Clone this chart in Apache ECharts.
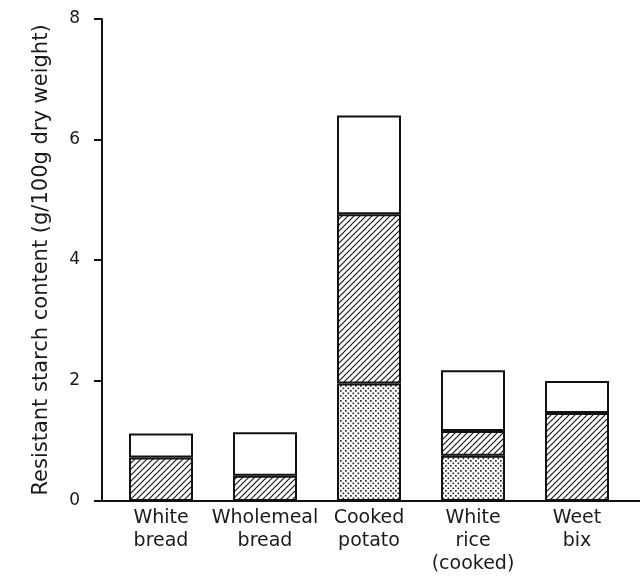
<!DOCTYPE html>
<html>
<head>
<meta charset="utf-8">
<script src="https://cdn.jsdelivr.net/npm/echarts@6/dist/echarts.min.js"></script>
<style>html,body{margin:0;padding:0;background:#fff}#c{width:640px;height:578px}</style>
</head>
<body>
<div id="c"></div>
<script>
const categories = ['White\nbread', 'Wholemeal\nbread', 'Cooked\npotato', 'White\nrice\n(cooked)', 'Weet\nbix'];
const dottedPart = [0, 0, 1.95, 0.75, 0];
const hatchedPart = [0.72, 0.42, 2.81, 0.41, 1.46];
const plainPart = [0.40, 0.72, 1.64, 1.01, 0.53];
const yTickLabels = ['0', '2', '4', '6', '8'];
const yTitle = 'Resistant starch content (g/100g dry weight)';

function hatchPattern() {
  const w = 6, h = 6;
  const c = document.createElement('canvas');
  c.width = w; c.height = h;
  const g = c.getContext('2d');
  g.fillStyle = '#fff'; g.fillRect(0, 0, w, h);
  g.strokeStyle = '#1a1a1a'; g.lineWidth = 1.2;
  for (let k = -1; k <= 1; k++) {
    g.beginPath();
    g.moveTo(k * w - w, 2 * h);
    g.lineTo(k * w + 2 * w, -h);
    g.stroke();
  }
  return c;
}
function dotPattern() {
  const c = document.createElement('canvas');
  c.width = 5; c.height = 5;
  const g = c.getContext('2d');
  g.fillStyle = '#fff'; g.fillRect(0, 0, 5, 5);
  g.fillStyle = '#2a2a2a';
  g.fillRect(0, 0, 1.7, 1.7);
  g.fillRect(2.5, 2.5, 1.7, 1.7);
  return c;
}

const chart = echarts.init(document.getElementById('c'), null, {renderer: 'canvas'});
const font = 'DejaVu Sans';
const border = {borderColor: '#111', borderWidth: 2};
chart.setOption({
  animation: false,
  backgroundColor: '#fff',
  grid: [
    {left: 102, right: 0, top: 19, bottom: 77},
    {left: 109, width: 520, top: 19, bottom: 77}
  ],
  xAxis: [
    {gridIndex: 0, type: 'value', min: 0, max: 1, axisLine: {show: true, lineStyle: {color: '#111', width: 2}},
     axisTick: {show: false}, axisLabel: {show: false}, splitLine: {show: false}},
    {gridIndex: 1, type: 'category', data: categories, axisLine: {show: false}, axisTick: {show: false},
     axisLabel: {fontFamily: font, fontSize: 19, color: '#1a1a1a', lineHeight: 23, margin: 6, interval: 0}}
  ],
  yAxis: [
    {gridIndex: 0, type: 'value', min: 0, max: 8, interval: 2,
     axisLine: {show: true, lineStyle: {color: '#111', width: 2}},
     axisTick: {show: true, length: 8, lineStyle: {color: '#111', width: 2}},
     axisLabel: {show: true, fontFamily: font, fontSize: 17, color: '#1a1a1a', margin: 22,
                 formatter: function (v) { return yTickLabels[Math.round(v / 2)]; }},
     splitLine: {show: false},
     name: yTitle, nameLocation: 'middle', nameGap: 50, nameRotate: 90,
     nameTextStyle: {fontFamily: font, fontSize: 21, color: '#1a1a1a'}},
    {gridIndex: 1, type: 'value', min: 0, max: 8, show: false}
  ],
  series: [
    {type: 'bar', name: 'dotted', xAxisIndex: 1, yAxisIndex: 1, stack: 's', barWidth: 64, data: dottedPart,
     itemStyle: Object.assign({color: {image: dotPattern(), repeat: 'repeat'}}, border)},
    {type: 'bar', name: 'hatched', xAxisIndex: 1, yAxisIndex: 1, stack: 's', barWidth: 64, data: hatchedPart,
     itemStyle: Object.assign({color: {image: hatchPattern(), repeat: 'repeat'}}, border)},
    {type: 'bar', name: 'plain', xAxisIndex: 1, yAxisIndex: 1, stack: 's', barWidth: 64, data: plainPart,
     itemStyle: Object.assign({color: '#fff'}, border)}
  ]
});
</script>
</body>
</html>
